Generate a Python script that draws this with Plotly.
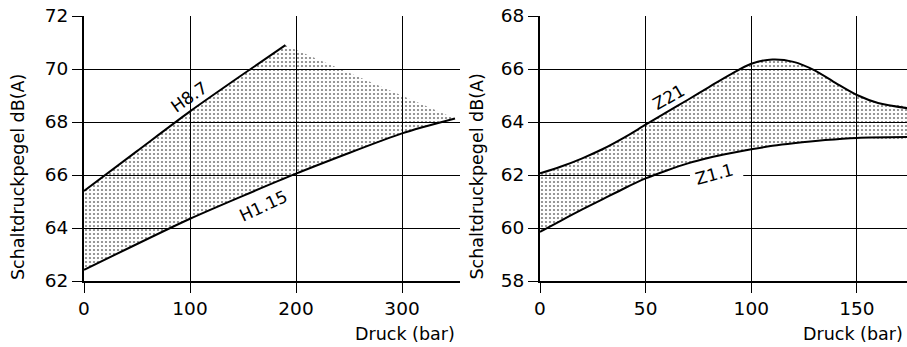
import plotly.graph_objects as go

# ---- data ----
h87_x = [0, 50, 100, 150, 190]
h87_y = [65.4, 66.9, 68.4, 69.8, 70.9]
h115_x = [0, 100, 200, 300, 350]
h115_y = [62.42, 64.35, 66.05, 67.57, 68.13]

z21_x = [0, 10, 20, 30, 40, 50, 60, 70, 80, 90, 100, 110, 120, 130, 140, 150, 160, 174]
z21_y = [62.06, 62.32, 62.63, 62.99, 63.42, 63.9, 64.37, 64.84, 65.32, 65.79, 66.2, 66.36,
         66.27, 65.95, 65.47, 65.02, 64.72, 64.52]
z11_x = [0, 10, 20, 30, 40, 50, 60, 70, 80, 90, 100, 110, 120, 135, 150, 174]
z11_y = [59.85, 60.28, 60.7, 61.1, 61.5, 61.87, 62.17, 62.44, 62.65, 62.82, 62.97, 63.1,
         63.2, 63.32, 63.4, 63.43]

left_yticks = [62, 64, 66, 68, 70, 72]
left_xticks = [0, 100, 200, 300]
right_yticks = [58, 60, 62, 64, 66, 68]
right_xticks = [0, 50, 100, 150]

x_title = "Druck (bar)"
y_title = "Schaltdruckpegel dB(A)"

FONT = "DejaVu Sans"
W, H = 907, 347

pattern = dict(shape=".", size=4, solidity=0.24, fgcolor="black",
               bgcolor="rgba(0,0,0,0)", fillmode="overlay")

fig = go.Figure()

# left fill
fig.add_trace(go.Scatter(
    x=h87_x + h115_x[::-1], y=h87_y + h115_y[::-1],
    mode="lines", fill="toself", fillcolor="rgba(0,0,0,0)", fillpattern=pattern,
    line=dict(width=0), hoverinfo="skip", showlegend=False, xaxis="x", yaxis="y"))
fig.add_trace(go.Scatter(x=h87_x, y=h87_y, mode="lines",
                         line=dict(color="black", width=2, shape="spline", smoothing=0.6),
                         showlegend=False, xaxis="x", yaxis="y"))
fig.add_trace(go.Scatter(x=h115_x, y=h115_y, mode="lines",
                         line=dict(color="black", width=2, shape="spline", smoothing=0.6),
                         showlegend=False, xaxis="x", yaxis="y"))

# right fill
fig.add_trace(go.Scatter(
    x=z21_x + z11_x[::-1], y=z21_y + z11_y[::-1],
    mode="lines", fill="toself", fillcolor="rgba(0,0,0,0)", fillpattern=pattern,
    line=dict(width=0, shape="spline", smoothing=0.8), hoverinfo="skip", showlegend=False,
    xaxis="x2", yaxis="y2"))
fig.add_trace(go.Scatter(x=z21_x, y=z21_y, mode="lines",
                         line=dict(color="black", width=2, shape="spline", smoothing=0.8),
                         showlegend=False, xaxis="x2", yaxis="y2"))
fig.add_trace(go.Scatter(x=z11_x, y=z11_y, mode="lines",
                         line=dict(color="black", width=2, shape="spline", smoothing=0.8),
                         showlegend=False, xaxis="x2", yaxis="y2"))

ydom = [1 - 281 / H, 1 - 16 / H]
common_axis = dict(showgrid=True, gridcolor="black", gridwidth=1,
                   showline=True, linecolor="black", linewidth=2,
                   ticks="outside", ticklen=10, tickcolor="black", tickwidth=1,
                   tickfont=dict(family=FONT, size=18.5, color="black"),
                   zeroline=False, fixedrange=True, automargin=False)

fig.update_layout(
    template="none",
    width=W, height=H, margin=dict(l=0, r=0, t=0, b=0, pad=0), autosize=False,
    paper_bgcolor="white", plot_bgcolor="white",
    xaxis=dict(domain=[84 / W, 460 / W], range=[0, 354.7], tickvals=left_xticks,
               anchor="y", **common_axis),
    yaxis=dict(domain=ydom, range=[62, 72], tickvals=left_yticks, anchor="x",
               **common_axis),
    xaxis2=dict(domain=[540 / W, 1.0], range=[0, 173.7], tickvals=right_xticks,
                anchor="y2", **common_axis),
    yaxis2=dict(domain=ydom, range=[58, 68], tickvals=right_yticks, anchor="x2",
                **common_axis),
)

lab_font = dict(family=FONT, size=17, color="black")
xt_font = dict(family=FONT, size=17.5, color="black")
yt_font = dict(family=FONT, size=17.5, color="black")
ann = [
    dict(text="H8.7", x=99, y=68.95, xref="x", yref="y", textangle=-35, font=lab_font),
    dict(text="H1.15", x=169, y=64.84, xref="x", yref="y", textangle=-25, font=lab_font),
    dict(text="Z21", x=61, y=64.95, xref="x2", yref="y2", textangle=-30, font=lab_font),
    dict(text="Z1.1", x=82.8, y=62.03, xref="x2", yref="y2", textangle=-15, font=lab_font),
    dict(text=x_title, x=457 / W, y=1 - 334 / H, xref="paper", yref="paper",
         xanchor="right", yanchor="middle", font=xt_font),
    dict(text=x_title, x=905 / W, y=1 - 334 / H, xref="paper", yref="paper",
         xanchor="right", yanchor="middle", font=xt_font),
    dict(text=y_title, x=18 / W, y=1 - 177 / H, xref="paper", yref="paper",
         textangle=-90, font=yt_font),
    dict(text=y_title, x=476.5 / W, y=1 - 177 / H, xref="paper", yref="paper",
         textangle=-90, font=yt_font),
]
for a in ann:
    a.setdefault("xanchor", "center")
    a.setdefault("yanchor", "middle")
    fig.add_annotation(showarrow=False, **a)

# white gap in the 62 grid line behind the Z1.1 label
fig.add_shape(type="line", xref="x2", yref="y2", x0=71, x1=96.2, y0=62, y1=62,
              line=dict(color="white", width=3), layer="between")

fig.write_html("out.html")
